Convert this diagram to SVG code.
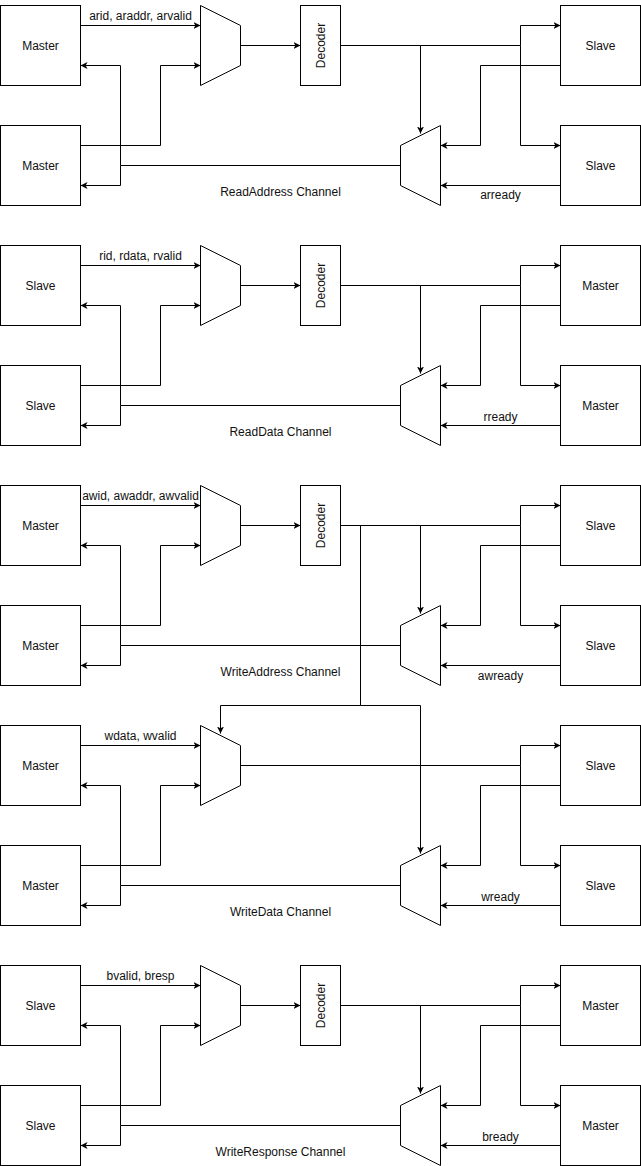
<svg xmlns="http://www.w3.org/2000/svg" width="641" height="1166" viewBox="0 0 641 1166">
<style>
.box{fill:#fff;stroke:#000;stroke-width:1}
.w{fill:none;stroke:#000;stroke-width:1}
.a{marker-end:url(#arr)}
text{font-family:"Liberation Sans",Arial,Helvetica,sans-serif;font-size:12px;fill:#111;text-anchor:middle}
</style>
<defs>
<marker id="arr" markerWidth="8" markerHeight="8" refX="7" refY="3.5" orient="auto" markerUnits="userSpaceOnUse"><path d="M0,0 L7,3.5 L0,7 L1.8,3.5 Z" fill="#000"/></marker>
</defs>
<rect x="0" y="0" width="641" height="1166" fill="#fff"/>
<g transform="translate(0.5,0.5)">

<!-- Section 1: ReadAddress -->
<g id="sec1">
<g id="connectors1">
<path class="w a" d="M80,25 H200"/>
<path class="w a" d="M80,145 H160 V65 H200"/>
<path class="w a" d="M400,165 H120 V65 H80"/>
<path class="w a" d="M120,165 V185 H80"/>
<path class="w a" d="M240,45 H300"/>
<path class="w" d="M340,45 H520"/>
<path class="w a" d="M420,45 V133"/>
<path class="w a" d="M520,45 V25 H560"/>
<path class="w a" d="M520,45 V145 H560"/>
<path class="w a" d="M560,65 H480 V145 H440"/>
<path class="w a" d="M560,185 H440"/>
<text x="140" y="19">arid, araddr, arvalid</text>
<text x="500" y="198">arready</text>
<text x="280" y="195">ReadAddress Channel</text>
</g>
<g id="s1-master1"><rect class="box" x="0" y="5" width="80" height="80"/><text x="40" y="49">Master</text></g>
<g id="s1-master2"><rect class="box" x="0" y="125" width="80" height="80"/><text x="40" y="169">Master</text></g>
<g id="s1-slave1"><rect class="box" x="560" y="5" width="80" height="80"/><text x="600" y="49">Slave</text></g>
<g id="s1-slave2"><rect class="box" x="560" y="125" width="80" height="80"/><text x="600" y="169">Slave</text></g>
<g id="s1-mux"><polygon class="box" points="200,5 240,25 240,65 200,85"/></g>
<g id="s1-decoder"><rect class="box" x="300" y="5" width="40" height="80"/><text transform="translate(320,45) rotate(-90)" x="0" y="4.5">Decoder</text></g>
<g id="s1-demux"><polygon class="box" points="440,125 440,205 400,185 400,145"/></g>
</g>

<!-- Section 2: ReadData -->
<g id="sec2" transform="translate(0,240)">
<g id="connectors2">
<path class="w a" d="M80,25 H200"/>
<path class="w a" d="M80,145 H160 V65 H200"/>
<path class="w a" d="M400,165 H120 V65 H80"/>
<path class="w a" d="M120,165 V185 H80"/>
<path class="w a" d="M240,45 H300"/>
<path class="w" d="M340,45 H520"/>
<path class="w a" d="M420,45 V133"/>
<path class="w a" d="M520,45 V25 H560"/>
<path class="w a" d="M520,45 V145 H560"/>
<path class="w a" d="M560,65 H480 V145 H440"/>
<path class="w a" d="M560,185 H440"/>
<text x="140" y="19">rid, rdata, rvalid</text>
<text x="500" y="180">rready</text>
<text x="280" y="195">ReadData Channel</text>
</g>
<g id="s2-slave1"><rect class="box" x="0" y="5" width="80" height="80"/><text x="40" y="49">Slave</text></g>
<g id="s2-slave2"><rect class="box" x="0" y="125" width="80" height="80"/><text x="40" y="169">Slave</text></g>
<g id="s2-master1"><rect class="box" x="560" y="5" width="80" height="80"/><text x="600" y="49">Master</text></g>
<g id="s2-master2"><rect class="box" x="560" y="125" width="80" height="80"/><text x="600" y="169">Master</text></g>
<g id="s2-mux"><polygon class="box" points="200,5 240,25 240,65 200,85"/></g>
<g id="s2-decoder"><rect class="box" x="300" y="5" width="40" height="80"/><text transform="translate(320,45) rotate(-90)" x="0" y="4.5">Decoder</text></g>
<g id="s2-demux"><polygon class="box" points="440,125 440,205 400,185 400,145"/></g>
</g>

<!-- Section 3: WriteAddress -->
<g id="sec3" transform="translate(0,480)">
<g id="connectors3">
<path class="w a" d="M80,25 H200"/>
<path class="w a" d="M80,145 H160 V65 H200"/>
<path class="w a" d="M400,165 H120 V65 H80"/>
<path class="w a" d="M120,165 V185 H80"/>
<path class="w a" d="M240,45 H300"/>
<path class="w" d="M340,45 H520"/>
<path class="w a" d="M420,45 V133"/>
<path class="w a" d="M520,45 V25 H560"/>
<path class="w a" d="M520,45 V145 H560"/>
<path class="w a" d="M560,65 H480 V145 H440"/>
<path class="w a" d="M560,185 H440"/>
<text x="140" y="19">awid, awaddr, awvalid</text>
<text x="500" y="199">awready</text>
<text x="280" y="195">WriteAddress Channel</text>
</g>
<g id="s3-master1"><rect class="box" x="0" y="5" width="80" height="80"/><text x="40" y="49">Master</text></g>
<g id="s3-master2"><rect class="box" x="0" y="125" width="80" height="80"/><text x="40" y="169">Master</text></g>
<g id="s3-slave1"><rect class="box" x="560" y="5" width="80" height="80"/><text x="600" y="49">Slave</text></g>
<g id="s3-slave2"><rect class="box" x="560" y="125" width="80" height="80"/><text x="600" y="169">Slave</text></g>
<g id="s3-mux"><polygon class="box" points="200,5 240,25 240,65 200,85"/></g>
<g id="s3-decoder"><rect class="box" x="300" y="5" width="40" height="80"/><text transform="translate(320,45) rotate(-90)" x="0" y="4.5">Decoder</text></g>
<g id="s3-demux"><polygon class="box" points="440,125 440,205 400,185 400,145"/></g>
</g>

<!-- Link from WriteAddress decoder to WriteData muxes -->
<g id="connectors-link">
<path class="w" d="M360,525 V705"/>
<path class="w a" d="M360,705 H220 V733"/>
<path class="w a" d="M360,705 H420 V853"/>
</g>

<!-- Section 4: WriteData -->
<g id="sec4" transform="translate(0,720)">
<g id="connectors4">
<path class="w a" d="M80,25 H200"/>
<path class="w a" d="M80,145 H160 V65 H200"/>
<path class="w a" d="M400,165 H120 V65 H80"/>
<path class="w a" d="M120,165 V185 H80"/>
<path class="w" d="M240,45 H520"/>
<path class="w a" d="M520,45 V25 H560"/>
<path class="w a" d="M520,45 V145 H560"/>
<path class="w a" d="M560,65 H480 V145 H440"/>
<path class="w a" d="M560,185 H440"/>
<text x="140" y="19">wdata, wvalid</text>
<text x="500" y="180">wready</text>
<text x="280" y="195">WriteData Channel</text>
</g>
<g id="s4-master1"><rect class="box" x="0" y="5" width="80" height="80"/><text x="40" y="49">Master</text></g>
<g id="s4-master2"><rect class="box" x="0" y="125" width="80" height="80"/><text x="40" y="169">Master</text></g>
<g id="s4-slave1"><rect class="box" x="560" y="5" width="80" height="80"/><text x="600" y="49">Slave</text></g>
<g id="s4-slave2"><rect class="box" x="560" y="125" width="80" height="80"/><text x="600" y="169">Slave</text></g>
<g id="s4-mux"><polygon class="box" points="200,5 240,25 240,65 200,85"/></g>
<g id="s4-demux"><polygon class="box" points="440,125 440,205 400,185 400,145"/></g>
</g>

<!-- Section 5: WriteResponse -->
<g id="sec5" transform="translate(0,960)">
<g id="connectors5">
<path class="w a" d="M80,25 H200"/>
<path class="w a" d="M80,145 H160 V65 H200"/>
<path class="w a" d="M400,165 H120 V65 H80"/>
<path class="w a" d="M120,165 V185 H80"/>
<path class="w a" d="M240,45 H300"/>
<path class="w" d="M340,45 H520"/>
<path class="w a" d="M420,45 V133"/>
<path class="w a" d="M520,45 V25 H560"/>
<path class="w a" d="M520,45 V145 H560"/>
<path class="w a" d="M560,65 H480 V145 H440"/>
<path class="w a" d="M560,185 H440"/>
<text x="140" y="19">bvalid, bresp</text>
<text x="500" y="180">bready</text>
<text x="280" y="195">WriteResponse Channel</text>
</g>
<g id="s5-slave1"><rect class="box" x="0" y="5" width="80" height="80"/><text x="40" y="49">Slave</text></g>
<g id="s5-slave2"><rect class="box" x="0" y="125" width="80" height="80"/><text x="40" y="169">Slave</text></g>
<g id="s5-master1"><rect class="box" x="560" y="5" width="80" height="80"/><text x="600" y="49">Master</text></g>
<g id="s5-master2"><rect class="box" x="560" y="125" width="80" height="80"/><text x="600" y="169">Master</text></g>
<g id="s5-mux"><polygon class="box" points="200,5 240,25 240,65 200,85"/></g>
<g id="s5-decoder"><rect class="box" x="300" y="5" width="40" height="80"/><text transform="translate(320,45) rotate(-90)" x="0" y="4.5">Decoder</text></g>
<g id="s5-demux"><polygon class="box" points="440,125 440,205 400,185 400,145"/></g>
</g>

</g>
</svg>
